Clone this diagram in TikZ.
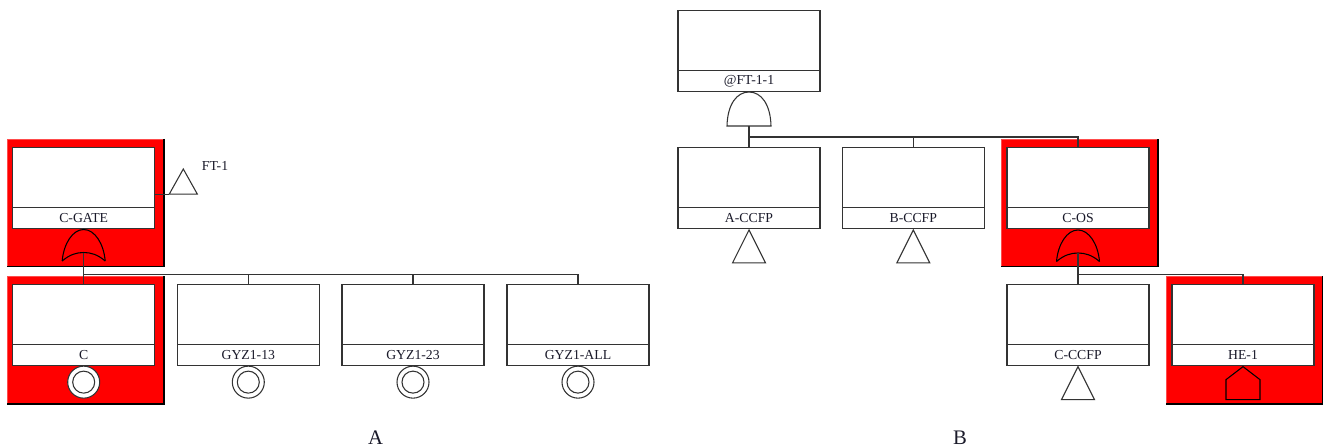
\documentclass[tikz,border=0pt]{standalone}
\usepackage{fontspec}
\setmainfont{Liberation Serif}
\definecolor{ftline}{HTML}{333333}
\definecolor{fttext}{HTML}{1A1A2A}
\definecolor{ftred}{HTML}{FF0000}
\tikzset{
  ln/.style={draw=ftline,line width=0.8pt},
  evbody/.style={ln,fill=white,rectangle,minimum width=106.5pt,minimum height=61pt,inner sep=0pt,outer sep=0pt,anchor=north},
  evlabel/.style={ln,fill=white,rectangle,minimum width=106.5pt,minimum height=16pt,inner sep=0pt,outer sep=0pt,anchor=south,font=\fontsize{10.3}{12}\selectfont,text=fttext},
  redback/.style={fill=ftred,draw=ftred!70!white,line width=0.4pt,rectangle,minimum width=117.4pt,minimum height=95.6pt,inner sep=0pt,outer sep=0pt,anchor=north west},
  redback2/.style={redback,minimum height=96pt},
  edge2/.style={draw=black,line width=1pt},
  orgate/.pic={
    \draw[ln,draw=black] (-21.5,31.5) .. controls (-20,14) and (-11,0) .. (0,0) .. controls (11,0) and (20,14) .. (21.5,31.5);
    \draw[ln,draw=black] (-21.5,31.5) .. controls (-14,25) and (-7,23) .. (0,23) .. controls (7,23) and (14,25) .. (21.5,31.5);
    \coordinate (-stem) at (0,23);
  },
  andgate/.pic={
    \draw[ln,fill=white] (-22,34) .. controls (-21.5,12) and (-12,0) .. (0,0) .. controls (12,0) and (21.5,12) .. (22,34) -- cycle;
    \coordinate (-stem) at (0,34);
  },
  tri/.pic={
    \draw[ln,fill=white] (0,0) -- (16.5,33) -- (-16.5,33) -- cycle;
    \coordinate (-l) at (-16.5,33);
  },
  xfer/.pic={
    \draw[ln,draw=black] (0,0) -- (17,13) -- (17,33) -- (-17,33) -- (-17,13) -- cycle;
  },
  basic/.pic={
    \draw[ln,fill=white] (0,0) circle[radius=16];
    \draw[ln,fill=white] (0,0) circle[radius=11];
  },
}
\newcommand{\ftevent}[4]{%
  \node[evbody] (#1) at (#2,#3) {};
  \node[evlabel] (#1-l) at (#1.south) {#4};
}
\newcommand{\ftred}[4][redback]{%
  \node[#1] (#2) at (#3,#4) {};
  \draw[edge2] (#2.north east) -- (#2.south east) -- (#2.south west);
}
\begin{document}
\begin{tikzpicture}[x=0.75pt,y=-0.75pt]
\useasboundingbox[fill=white] (0,0) rectangle (1327,447);
% red highlights
\ftred{rcg}{7.3}{138.8}
\ftred[redback2]{rc}{7.3}{276}
\ftred{ros}{1001.3}{139}
\ftred[redback2]{rhe}{1166}{276}
% events
\ftevent{cgate}{83.7}{147.5}{C-GATE}
\ftevent{c}{83.7}{284.3}{C}
\ftevent{g13}{248.3}{284.3}{GYZ1-13}
\ftevent{g23}{413}{284.3}{GYZ1-23}
\ftevent{gall}{578}{284.3}{GYZ1-ALL}
\ftevent{top}{749}{10.3}{@FT-1-1}
\ftevent{accf}{749}{147.6}{A-CCFP}
\ftevent{bccf}{913.3}{147.6}{B-CCFP}
\ftevent{cos}{1078}{147.6}{C-OS}
\ftevent{cccf}{1078}{284.3}{C-CCFP}
\ftevent{he}{1243}{284.3}{HE-1}
% gates
\path (83.7,229.5) pic (g1) {orgate};
\path (749,92) pic (g2) {andgate};
\path (1078,230) pic (g3) {orgate};
% bottom symbols
\path (c.south) ++(0,16.5) pic {basic};
\path (g13.south) ++(0,16.5) pic {basic};
\path (g23.south) ++(0,16.5) pic {basic};
\path (gall.south) ++(0,16.5) pic {basic};
\path (accf.south) ++(0,1) pic {tri};
\path (bccf.south) ++(0,1) pic {tri};
\path (cccf.south) ++(0,1) pic {tri};
\path (he.south) ++(0,1) pic {xfer};
\path (183.3,169) pic[xscale=.85,yscale=.76] (ft) {tri};
% connectors
\coordinate (busA) at (0,274.3);
\coordinate (busB) at (0,137);
\coordinate (busC) at (0,274.3);
\draw[ln] (g1-stem) -- (c.north);
\draw[ln] (c.north |- busA) -- (gall.north |- busA) -- (gall.north);
\draw[ln] (g13.north |- busA) -- (g13.north);
\draw[ln] (g23.north |- busA) -- (g23.north);
\draw[ln] (g2-stem) -- (accf.north);
\draw[ln] (accf.north |- busB) -- (cos.north |- busB) -- (cos.north);
\draw[ln] (bccf.north |- busB) -- (bccf.north);
\draw[ln] (g3-stem) -- (cccf.north);
\draw[ln] (cccf.north |- busC) -- (he.north |- busC) -- (he.north);
\draw[ln] (cgate.east |- ft-l) -- (ft-l);
% labels
\node[font=\fontsize{10.3}{12}\selectfont,text=fttext] (ftlab) at (215,166) {FT-1};
\node[font=\fontsize{15.5}{17}\selectfont,text=fttext,inner sep=0pt,anchor=base] (lA) at (375.5,444.5) {A};
\node[font=\fontsize{15.5}{17}\selectfont,text=fttext,inner sep=0pt,anchor=base] (lB) at (960,444.5) {B};
\end{tikzpicture}
\end{document}
